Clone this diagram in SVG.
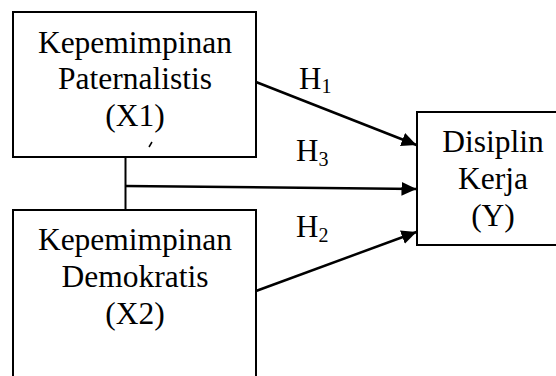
<svg xmlns="http://www.w3.org/2000/svg" width="556" height="376" viewBox="0 0 556 376">
<style>
.box{fill:#fff;stroke:#000;stroke-width:2}
.t{font-size:31.5px;fill:#000;text-anchor:middle}
.h{font-size:31px;fill:#000}
.sub{font-size:20px}
.ln{stroke:#000;stroke-width:2.5;fill:none}
</style>
<defs>
<marker id="arr" markerUnits="userSpaceOnUse" markerWidth="16" markerHeight="15" refX="15" refY="7" orient="auto">
<path d="M0,0 L15,7 L0,14 z" fill="#000"/>
</marker>
</defs>
<g font-family="Liberation Serif, Times New Roman, serif">
<g id="x1">
<rect class="box" x="13" y="12" width="243" height="145"/>
<text class="t" x="135" y="53">Kepemimpinan</text>
<text class="t" x="135" y="89">Paternalistis</text>
<text class="t" x="135" y="126">(X1)</text>
<line x1="149" y1="147" x2="152" y2="142" stroke="#000" stroke-width="1.5"/>
</g>
<g id="x2">
<rect class="box" x="13" y="210" width="243" height="180"/>
<text class="t" x="135" y="250">Kepemimpinan</text>
<text class="t" x="135" y="287">Demokratis</text>
<text class="t" x="135" y="324">(X2)</text>
</g>
<g id="y">
<rect class="box" x="417" y="112" width="150" height="133"/>
<text class="t" x="493" y="152">Disiplin</text>
<text class="t" x="493" y="189">Kerja</text>
<text class="t" x="493" y="226">(Y)</text>
</g>
<g id="connectors">
<line class="ln" x1="125.5" y1="157" x2="125.5" y2="210" style="stroke-width:2"/>
<line class="ln" x1="256" y1="82" x2="416.5" y2="145" marker-end="url(#arr)"/>
<line class="ln" x1="125" y1="186" x2="416.5" y2="189" marker-end="url(#arr)"/>
<line class="ln" x1="256" y1="291" x2="416.5" y2="232" marker-end="url(#arr)"/>
</g>
<g id="labels">
<text class="h" x="299" y="89">H<tspan class="sub" dy="4">1</tspan></text>
<text class="h" x="296" y="161">H<tspan class="sub" dy="5">3</tspan></text>
<text class="h" x="296" y="237">H<tspan class="sub" dy="5">2</tspan></text>
</g>
</g>
</svg>
